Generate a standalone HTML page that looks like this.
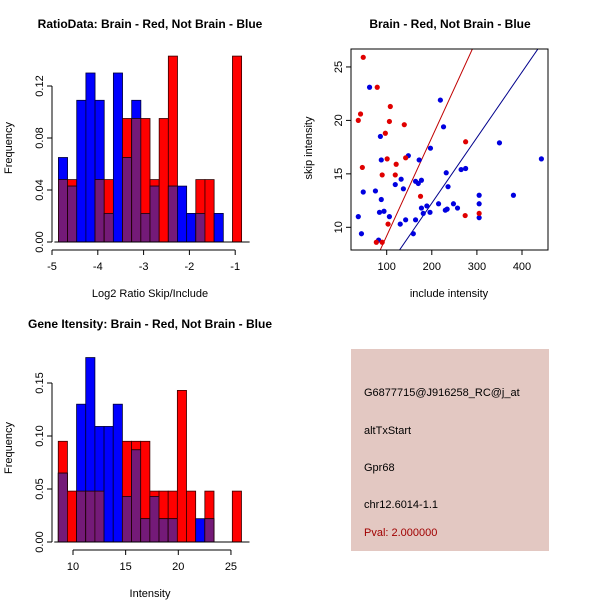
<!DOCTYPE html>
<html><head><meta charset="utf-8"><style>
body{margin:0;background:#fff}
svg{display:block;font-family:"Liberation Sans",sans-serif}
</style></head><body>
<svg id="s" width="600" height="600" xmlns="http://www.w3.org/2000/svg">
<rect width="600" height="600" fill="#fff"/>
<text x="150" y="28" text-anchor="middle" font-size="12" font-weight="bold">RatioData: Brain - Red, Not Brain - Blue</text>
<text x="450" y="28" text-anchor="middle" font-size="12" font-weight="bold">Brain - Red, Not Brain - Blue</text>
<text x="150" y="328" text-anchor="middle" font-size="12" font-weight="bold">Gene Itensity: Brain - Red, Not Brain - Blue</text>
<g>
<rect x="351" y="349" width="198" height="202" fill="#e3c8c2"/>
<text x="364" y="396" font-size="11">G6877715@J916258_RC@j_at</text>
<text x="364" y="434" font-size="11">altTxStart</text>
<text x="364" y="471" font-size="11">Gpr68</text>
<text x="364" y="508" font-size="11">chr12.6014-1.1</text>
<text x="364" y="536" font-size="11" fill="#a00000">Pval: 2.000000</text>
</g>
</svg>
<script>
const ratioRed=[0.048,0.048,0,0,0.048,0.048,0,0.095,0.095,0.095,0.048,0.095,0.143,0,0,0.048,0.048,0,0,0.143];
const ratioBlue=[0.065,0.043,0.109,0.130,0.109,0.022,0.130,0.065,0.109,0.022,0.043,0,0.043,0.043,0.022,0.022,0,0.022,0,0];
const ratioXTicks=[-5,-4,-3,-2,-1];
const ratioYTicks=[0,0.04,0.08,0.12];
const intRed=[0.095,0.048,0.048,0.048,0.048,0,0,0.095,0.095,0.095,0.048,0.048,0.048,0.143,0.048,0,0.048,0,0,0.048];
const intBlue=[0.065,0,0.130,0.174,0.109,0.109,0.130,0.043,0.087,0.022,0.043,0.022,0.022,0,0,0.022,0.022,0,0,0];
const intXTicks=[10,15,20,25];
const intYTicks=[0,0.05,0.10,0.15];
const redX=[48,79,42,37,108,106,139,97,275,101,46,142,121,90,119,175,305,274,103,77,90];
const redY=[25.9,23.1,20.6,20.0,21.3,19.9,19.6,18.8,18.0,16.4,15.6,16.5,15.9,14.9,14.9,12.9,11.3,11.1,10.3,8.6,8.6];
const blueX=[62,219,226,86,350,443,197,148,172,88,275,265,232,132,164,177,170,119,137,236,48,75,305,381,88,305,215,248,189,257,177,234,230,181,196,84,94,106,37,305,142,164,130,44,159,82];
const blueY=[23.1,21.9,19.4,18.5,17.9,16.4,17.4,16.7,16.3,16.3,15.5,15.4,15.1,14.5,14.3,14.4,14.1,14.0,13.6,13.8,13.3,13.4,13.0,13.0,12.6,12.2,12.2,12.2,12.0,11.8,11.8,11.7,11.6,11.3,11.4,11.4,11.5,11.0,11.0,10.9,10.7,10.7,10.3,9.4,9.4,8.8];
const slopes=[0.092,0.0613];
const scXTicks=[100,200,300,400];
const scYTicks=[10,15,20,25];

const S=document.getElementById('s');
const NS='http://www.w3.org/2000/svg';
function mk(t,a,p){const e=document.createElementNS(NS,t);for(const k in a)e.setAttribute(k,a[k]);(p||S).appendChild(e);return e;}
function fmt(v,d){return d?v.toFixed(d):String(v);}

function hist(o){
  const g=mk('g',{});
  
  
  const xs=v=>o.x0+(v-o.d0)*o.kx, ys=v=>o.y0-v*o.ky;
  const bw=o.bin*o.kx;
  for(let i=0;i<o.red.length;i++){
    const x=xs(o.start+i*o.bin);
    const r=o.red[i],b=o.blue[i],m=Math.min(r,b);
    if(r>0){const e=mk('rect',{x:x,y:ys(r),width:bw,height:r*o.ky,fill:'#ff0000',stroke:'#300','stroke-width':0.8},g);
      }
    if(b>0){const e=mk('rect',{x:x,y:ys(b),width:bw,height:b*o.ky,fill:'#0000ff',stroke:'#003','stroke-width':0.8},g);
      }
    if(m>0){const e=mk('rect',{x:x,y:ys(m),width:bw,height:m*o.ky,fill:'#741a78',stroke:'#200','stroke-width':0.8},g);
      }
  }
  // y axis
  const yt=o.yt;
  mk('line',{x1:o.yax,x2:o.yax,y1:ys(yt[0]),y2:ys(yt[yt.length-1]),stroke:'#000'},g);
  yt.forEach(v=>{mk('line',{x1:o.yax-5,x2:o.yax,y1:ys(v),y2:ys(v),stroke:'#000'},g);
    const t=mk('text',{x:0,y:0,'font-size':11,'text-anchor':'middle',transform:`translate(${o.yax-9},${ys(v)}) rotate(-90)`},g);t.textContent=fmt(v,o.yd);});
  // bottom line at 0
  mk('line',{x1:o.x0+(o.start-o.d0)*o.kx-4,x2:xs(o.start+o.red.length*o.bin)+8,y1:o.y0,y2:o.y0,stroke:'#000'},g);
  const xt=o.xt;
  mk('line',{x1:xs(xt[0]),x2:xs(xt[xt.length-1]),y1:o.xax,y2:o.xax,stroke:'#000'},g);
  xt.forEach(v=>{mk('line',{x1:xs(v),x2:xs(v),y1:o.xax,y2:o.xax+5,stroke:'#000'},g);
    const t=mk('text',{x:xs(v),y:o.xax+20,'font-size':11,'text-anchor':'middle'},g);t.textContent=v;});
  const xl=mk('text',{x:150,y:o.xlab,'font-size':11,'text-anchor':'middle'},g);xl.textContent=o.xl;
  
  const yl=mk('text',{x:0,y:0,'font-size':11,'text-anchor':'middle',transform:`translate(12,${o.ylabY}) rotate(-90)`},g);yl.textContent='Frequency';
  
}
hist({name:'ratio-histogram',red:ratioRed,blue:ratioBlue,start:-4.86,bin:0.2,d0:-5,x0:52,kx:45.8,y0:242,ky:1300,yt:ratioYTicks,yd:2,yax:52,xt:ratioXTicks,xax:250,xlab:297,xl:'Log2 Ratio Skip/Include',ylabY:148});
hist({name:'intensity-histogram',red:intRed,blue:intBlue,start:8.6,bin:0.87,d0:10,x0:73,kx:10.53,y0:542,ky:1060,yt:intYTicks,yd:2,yax:52,xt:intXTicks,xax:550,xlab:597,xl:'Intensity',ylabY:448});

// scatter
(function(){
  const g=mk('g',{});
  
  
  const L=351,R=548,T=49,B=250;
  const xs=v=>386.7+(v-100)*0.451, ys=v=>227.3-(v-10)*10.69;
  const cp=mk('clipPath',{id:'cp'},g);mk('rect',{x:L,y:T,width:R-L,height:B-T},cp);
  const cols=['#c00000','#00008b'];
  slopes.forEach((b,i)=>{const x1=0,x2=600;const l=mk('line',{x1:xs(x1),y1:ys(b*x1),x2:xs(x2),y2:ys(b*x2),stroke:cols[i],'stroke-width':1,'clip-path':'url(#cp)'},g);
    });
  blueX.forEach((v,i)=>{const c=mk('circle',{cx:xs(v),cy:ys(blueY[i]),r:2.6,fill:'#0000e0'},g);
    });
  redX.forEach((v,i)=>{const c=mk('circle',{cx:xs(v),cy:ys(redY[i]),r:2.6,fill:'#e00000'},g);
    });
  mk('rect',{x:L,y:T,width:R-L,height:B-T,fill:'none',stroke:'#000'},g);
  scXTicks.forEach(v=>{mk('line',{x1:xs(v),x2:xs(v),y1:B,y2:B+5,stroke:'#000'},g);
    const t=mk('text',{x:xs(v),y:B+20,'font-size':11,'text-anchor':'middle'},g);t.textContent=v;});
  scYTicks.forEach(v=>{mk('line',{x1:L-5,x2:L,y1:ys(v),y2:ys(v),stroke:'#000'},g);
    const t=mk('text',{x:0,y:0,'font-size':11,'text-anchor':'middle',transform:`translate(${L-9},${ys(v)}) rotate(-90)`},g);t.textContent=v;});
  const xl=mk('text',{x:449,y:297,'font-size':11,'text-anchor':'middle'},g);xl.textContent='include intensity';
  
  const yl=mk('text',{x:0,y:0,'font-size':11,'text-anchor':'middle',transform:'translate(312,148) rotate(-90)'},g);yl.textContent='skip intensity';
  
})();
</script>
</body></html>
